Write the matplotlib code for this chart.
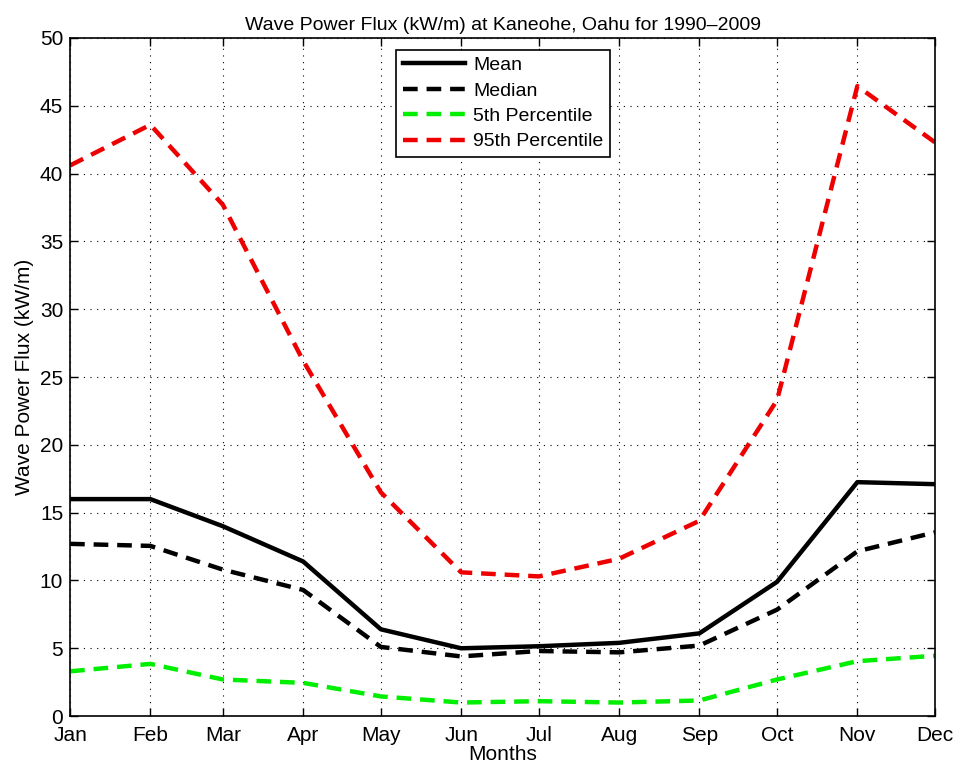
import matplotlib
matplotlib.use("Agg")
import matplotlib.pyplot as plt

# months placed at the day of year where each starts
months = ["Jan", "Feb", "Mar", "Apr", "May", "Jun",
          "Jul", "Aug", "Sep", "Oct", "Nov", "Dec"]
day_of_year = [1, 32, 60, 91, 121, 152, 182, 213, 244, 274, 305, 335]

mean_flux = [16.0, 16.0, 14.0, 11.4, 6.4, 5.0, 5.15, 5.4, 6.1, 9.9, 17.25, 17.1]
median_flux = [12.7, 12.55, 10.8, 9.3, 5.1, 4.4, 4.8, 4.7, 5.2, 7.85, 12.15, 13.55]
p5_flux = [3.3, 3.85, 2.7, 2.45, 1.45, 1.0, 1.1, 1.0, 1.15, 2.7, 4.05, 4.45]
p95_flux = [40.6, 43.6, 37.7, 26.2, 16.5, 10.6, 10.3, 11.6, 14.4, 23.3, 46.45, 42.3]

plt.rcParams["font.family"] = ["Liberation Sans", "DejaVu Sans"]

fig = plt.figure(figsize=(9.6, 7.75), dpi=100)
ax = fig.add_axes([0.073, 0.076, 0.901, 0.875])

dash = (3.3, 2.0)
ax.plot(day_of_year, mean_flux, color="black", lw=3.2, label="Mean")
ax.plot(day_of_year, median_flux, color="black", lw=3.2, dashes=dash, label="Median")
ax.plot(day_of_year, p5_flux, color="#00ee00", lw=3.2, dashes=dash, label="5th Percentile")
ax.plot(day_of_year, p95_flux, color="#ee0000", lw=3.2, dashes=dash, label="95th Percentile")

ax.set_xlim(day_of_year[0], day_of_year[-1])
ax.set_ylim(0, 50)
ax.set_xticks(day_of_year)
ax.set_xticklabels(months)
ax.set_yticks(range(0, 51, 5))
ax.tick_params(direction="in", top=True, right=True, labelsize=15, length=6, width=1)
ax.tick_params(axis="x", pad=7)
ax.tick_params(axis="y", pad=5)
ax.grid(True, color="black", linestyle=(0, (1, 5)), linewidth=0.8)
for s in ax.spines.values():
    s.set_linewidth(1.2)

ax.set_title("Wave Power Flux (kW/m) at Kaneohe, Oahu for 1990\u20132009", fontsize=14)
ax.set_xlabel("Months", fontsize=15, labelpad=0)
ax.set_ylabel("Wave Power Flux (kW/m)", fontsize=15, labelpad=4)

leg = ax.legend(loc="upper left", bbox_to_anchor=(0.366, 0.997), fontsize=14,
                fancybox=False, framealpha=1, edgecolor="black",
                handlelength=3.2, handletextpad=0.4, borderpad=0.35,
                labelspacing=0.4)
leg.get_frame().set_linewidth(1.2)

fig.savefig("out.png", dpi=100)
